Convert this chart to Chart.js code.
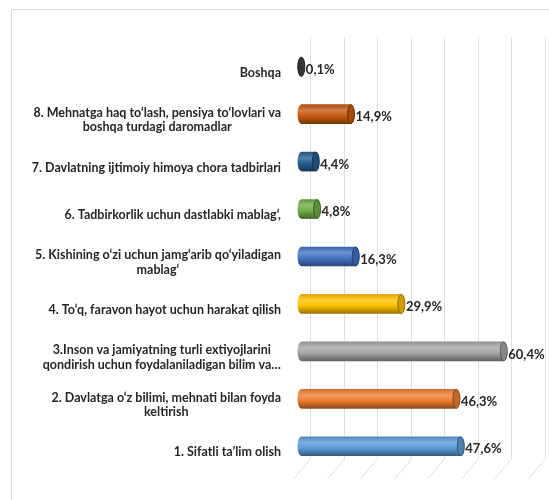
<!DOCTYPE html>
<html lang="uz">
<head>
<meta charset="UTF-8">
<title>Bilim olish maqsadlari</title>
<script src="https://cdn.jsdelivr.net/npm/chart.js"></script>
<style>
  html, body { margin: 0; padding: 0; background: #fff; }
</style>
</head>
<body>
<canvas id="chart" width="549" height="500"></canvas>
<script>
// categories, top to bottom
const categories = [
  ['Boshqa'],
  ['8. Mehnatga haq to‘lash, pensiya to‘lovlari va', 'boshqa turdagi daromadlar'],
  ['7. Davlatning ijtimoiy himoya chora tadbirlari'],
  ['6. Tadbirkorlik uchun dastlabki mablag‘,'],
  ['5. Kishining o‘zi uchun jamg‘arib qo‘yiladigan', 'mablag‘'],
  ['4. To‘q, faravon hayot uchun harakat qilish'],
  ['3.Inson va jamiyatning turli extiyojlarini', 'qondirish uchun foydalaniladigan bilim va…'],
  ['2. Davlatga o‘z bilimi, mehnati bilan foyda', 'keltirish'],
  ['1. Sifatli ta’lim olish']
];
const values = [0.1, 14.9, 4.4, 4.8, 16.3, 29.9, 60.4, 46.3, 47.6];
const barColors = ['#3f3f3f', '#c55a11', '#255e91', '#70ad47', '#4472c4', '#ffc000', '#a5a5a5', '#ed7d31', '#5b9bd5'];
const gridTicks = [0, 10, 20, 30, 40, 50, 60, 70];

const labelFont = 'bold 12.5px Lato';
const valueFont = 'bold 13px Lato';
const textColor = '#262626';

function shade(hex, p) {
  const n = parseInt(hex.slice(1), 16);
  let r = n >> 16, g = (n >> 8) & 255, b = n & 255;
  const f = c => p < 0 ? Math.round(c * (1 + p)) : Math.round(c + (255 - c) * p);
  return 'rgb(' + f(r) + ',' + f(g) + ',' + f(b) + ')';
}

function cylGradient(ctx, y, h, color) {
  const g = ctx.createLinearGradient(0, y - h / 2, 0, y + h / 2);
  g.addColorStop(0, shade(color, -0.12));
  g.addColorStop(0.3, shade(color, 0.22));
  g.addColorStop(0.6, color);
  g.addColorStop(1, shade(color, -0.4));
  return g;
}

const cylinder = {
  id: 'cylinder',
  beforeDraw(chart) {
    const ctx = chart.ctx;
    ctx.save();
    ctx.strokeStyle = '#d9d9d9';
    ctx.lineWidth = 1;
    ctx.beginPath();
    ctx.moveTo(11.5, 500);
    ctx.lineTo(11.5, 9.5);
    ctx.lineTo(549, 9.5);
    ctx.stroke();
    ctx.restore();
  },
  beforeDatasetsDraw(chart) {
    const { ctx, chartArea: a, scales: { x } } = chart;
    ctx.save();
    ctx.strokeStyle = '#dedede';
    ctx.lineWidth = 1;
    gridTicks.forEach(v => {
      const px = Math.round(x.getPixelForValue(v)) + 0.5;
      ctx.beginPath();
      ctx.moveTo(px + 9, a.top - 6);
      ctx.lineTo(px + 9, a.bottom - 11);
      ctx.lineTo(px - 8, a.bottom + 9);
      ctx.stroke();
    });
    ctx.restore();
  },
  afterDatasetsDraw(chart) {
    const { ctx, chartArea: a } = chart;
    const meta = chart.getDatasetMeta(0);
    ctx.save();
    meta.data.forEach((bar, i) => {
      const c = barColors[i];
      const ry = bar.height / 2, rx = 3.5;
      // left rounded end
      ctx.fillStyle = cylGradient(ctx, bar.y, bar.height, c);
      ctx.beginPath();
      ctx.ellipse(bar.base, bar.y, rx, ry, 0, 0, Math.PI * 2);
      ctx.fill();
      // right end cap
      ctx.fillStyle = shade(c, -0.18);
      ctx.strokeStyle = shade(c, -0.45);
      ctx.lineWidth = 1;
      ctx.beginPath();
      ctx.ellipse(bar.x, bar.y, rx, ry, 0, 0, Math.PI * 2);
      ctx.fill();
      ctx.stroke();
      // value label
      ctx.fillStyle = textColor;
      ctx.font = valueFont;
      ctx.textAlign = 'left';
      ctx.textBaseline = 'middle';
      ctx.fillText(values[i].toFixed(1).replace('.', ',') + '%', bar.x + rx + 1, bar.y + 3);
    });
    // category labels: block right-aligned, lines centred
    const yS = chart.scales.y;
    const right = a.left - 20;
    const lh = 14.5;
    ctx.font = labelFont;
    ctx.textAlign = 'center';
    ctx.fillStyle = textColor;
    categories.forEach((lines, i) => {
      const w = Math.max(...lines.map(t => ctx.measureText(t).width));
      const cx = right - w / 2;
      const y0 = yS.getPixelForValue(i) + 6 - (lines.length - 1) * lh / 2;
      lines.forEach((t, k) => ctx.fillText(t, cx, y0 + k * lh));
    });
    ctx.restore();
  }
};

new Chart(document.getElementById('chart'), {
  type: 'bar',
  data: {
    labels: categories.map(l => l.join(' ')),
    datasets: [{
      data: values,
      barThickness: 19,
      backgroundColor: context => {
        const ch = context.chart;
        const i = context.dataIndex;
        if (!ch.chartArea || !ch.scales.y) return barColors[i];
        return cylGradient(ch.ctx, ch.scales.y.getPixelForValue(i), 19, barColors[i]);
      }
    }]
  },
  options: {
    indexAxis: 'y',
    responsive: false,
    animation: false,
    layout: { padding: { left: 301, top: 43, right: 13, bottom: 30 } },
    plugins: { legend: { display: false }, tooltip: { enabled: false } },
    scales: {
      x: { display: false, min: 0, max: 70 },
      y: { display: false }
    }
  },
  plugins: [cylinder]
});
</script>
</body>
</html>
